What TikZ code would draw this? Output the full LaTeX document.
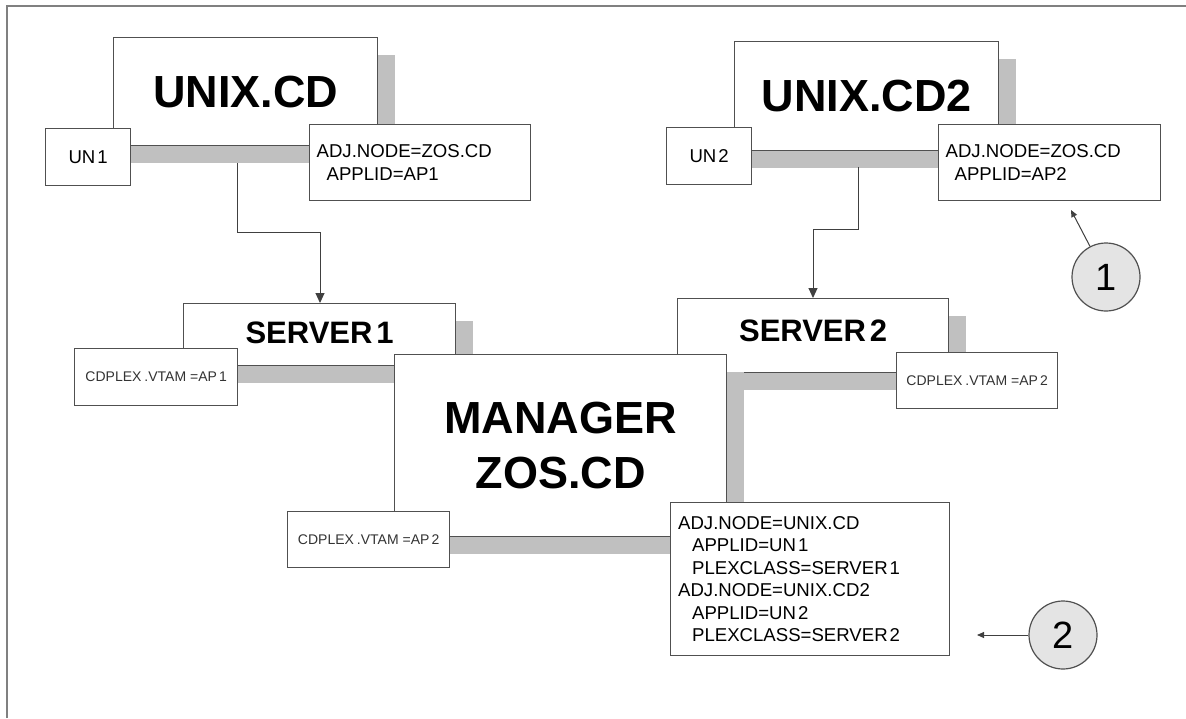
\documentclass[tikz,border=0pt]{standalone}
\usepackage{fontspec}
\setmainfont{Liberation Sans}
\usetikzlibrary{arrows.meta,shadows,calc}
\definecolor{shadowgray}{HTML}{C0C0C0}
\definecolor{edgegray}{HTML}{505050}
\definecolor{linegray}{HTML}{404040}
\definecolor{framegray}{HTML}{808080}
\definecolor{circlefill}{HTML}{E4E4E4}
\definecolor{smalltext}{HTML}{333333}
\begin{document}
\begin{tikzpicture}[x=1pt,y=-1pt,
  box/.style={draw=edgegray, line width=1.3pt, fill=white, rectangle, inner sep=0pt, anchor=north west},
  shadowed/.style={drop shadow={shadow xshift=17pt, shadow yshift=-17pt, fill=shadowgray, opacity=1, draw=none}},
  bigtxt/.style={font=\fontsize{45}{55}\selectfont\bfseries, align=center},
  servertxt/.style={font=\fontsize{31}{36}\selectfont\bfseries, text height=22pt},
  midtxt/.style={font=\fontsize{18.6}{22.5}\selectfont},
  adjbox/.style={box, midtxt, align=left, inner xsep=7pt},
  vtambox/.style={box, font=\fontsize{14}{16}\selectfont, text=smalltext},
  conn/.style={draw=linegray, line width=1pt},
  arr/.style={conn, -{Triangle[length=10pt,width=9pt]}},
  smallarr/.style={conn, -{Triangle[length=7pt,width=6pt]}},
  callout/.style={circle, draw=edgegray, line width=1.2pt, fill=circlefill, minimum size=68pt, inner sep=0pt, font=\fontsize{38}{38}\selectfont}
]
\useasboundingbox (0,0) rectangle (1186,718);
\fill[white] (0,0) rectangle (1186,718);
\draw[framegray, line width=2pt] (7,718) -- (7,6) -- (1186,6);

% UNIX.CD group
\node[box, shadowed, bigtxt, minimum width=264pt, minimum height=108pt] (unix1) at (113,37) {UNIX.CD};
\node[box, midtxt, minimum width=85pt, minimum height=57pt] (un1) at (45,128) {UN\kern2pt 1};
\node[adjbox, minimum width=221pt, minimum height=76pt, text width=207pt] (adj1) at (309,124)
  {ADJ.NODE=ZOS.CD\\\hspace*{10pt}APPLID=AP1};

% UNIX.CD2 group
\node[box, shadowed, bigtxt, minimum width=264pt, minimum height=109pt] (unix2) at (734,41) {UNIX.CD2};
\node[box, midtxt, minimum width=85pt, minimum height=57pt] (un2) at (666,127) {UN\kern2pt 2};
\node[adjbox, minimum width=222pt, minimum height=76pt, text width=208pt] (adj2) at (938,124)
  {ADJ.NODE=ZOS.CD\\\hspace*{9pt}APPLID=AP2};

% servers
\node[box, shadowed, servertxt, text depth=4pt, minimum width=272pt, minimum height=62pt] (server1) at (183,303) {SERVER\kern4pt 1};
\node[box, shadowed, servertxt, text depth=10pt, minimum width=271pt, minimum height=74pt] (server2) at (677,298) {SERVER\kern4pt 2};

% manager
\node[box, shadowed, bigtxt, minimum width=332pt, minimum height=182pt] (manager) at (394,354) {MANAGER\\ZOS.CD};

% VTAM boxes
\node[vtambox, minimum width=163pt, minimum height=57pt] (vtam1) at (74,348) {CDPLEX\kern3pt.VTAM\kern4pt=AP\kern2pt 1};
\node[vtambox, minimum width=162pt, minimum height=56pt] (vtam2) at (287,511) {CDPLEX\kern3pt.VTAM\kern4pt=AP\kern2pt 2};
\node[vtambox, minimum width=161pt, minimum height=56pt] (vtam3) at (896,352) {CDPLEX\kern3pt.VTAM\kern4pt=AP\kern2pt 2};

% manager adjacency box
\node[adjbox, inner xsep=7.5pt, minimum width=279pt, minimum height=153pt, text width=264pt] (adj3) at (670,502)
  {ADJ.NODE=UNIX.CD\\
   \hspace*{14pt}APPLID=UN\kern2pt 1\\
   \hspace*{14pt}PLEXCLASS=SERVER\kern2pt 1\\
   ADJ.NODE=UNIX.CD2\\
   \hspace*{14pt}APPLID=UN\kern2pt 2\\
   \hspace*{14pt}PLEXCLASS=SERVER\kern2pt 2};

% connectors
\coordinate (s1) at (237,163);
\coordinate (k1) at (320,232);
\draw[arr] (s1) |- (k1) -- (k1 |- server1.north);
\coordinate (s2) at (858,167);
\coordinate (k2) at (813,229);
\draw[arr] (s2) |- (k2) -- (k2 |- server2.north);

% callouts
\node[callout] (c1) at (1106,277) {1};
\node[callout] (c2) at (1063,635) {2};
\coordinate (t1) at (1071,210);
\coordinate (t2) at (977,635);
\draw[smallarr] (c1) -- (t1);
\draw[smallarr] (c2) -- (t2);
\end{tikzpicture}
\end{document}
